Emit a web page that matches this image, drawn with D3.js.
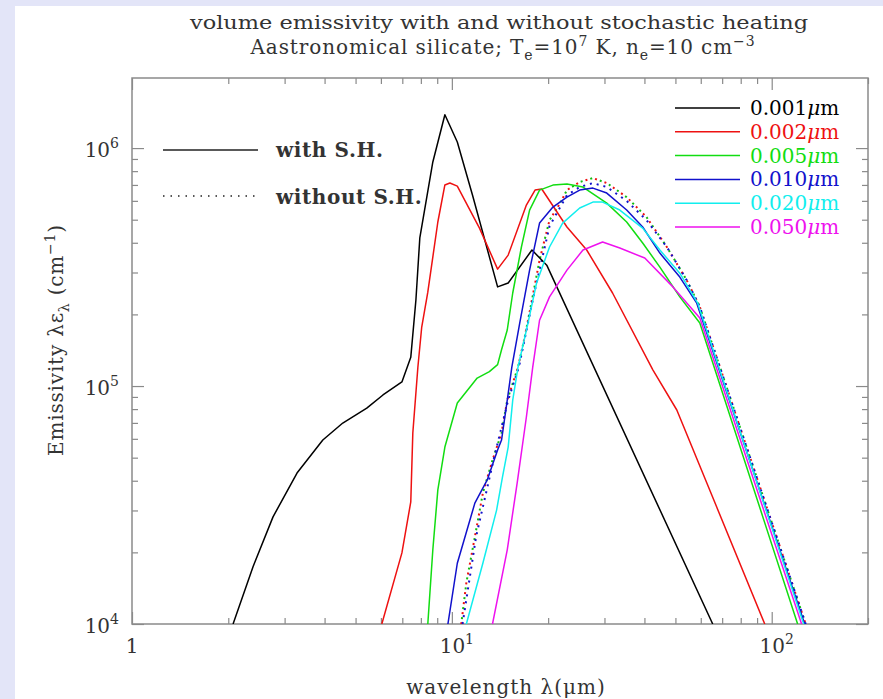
<!DOCTYPE html>
<html>
<head>
<meta charset="utf-8">
<script src="https://cdn.jsdelivr.net/npm/d3@7"></script>
<style>
body { margin: 0; background: #e3e5f8; }
svg { display: block; }
text { font-family: "DejaVu Serif", serif; fill: #333; }
</style>
</head>
<body>
<div id="chart"></div>
<script>
// wavelength (micron) and emissivity (cm^-1)
const lamBlack = [2.07, 2.39, 2.76, 3.28, 3.95, 4.56, 5.42, 6.09, 6.98, 7.44, 7.72, 7.94, 8.72, 9.51, 10.4, 11.6, 13.9, 15.0, 17.8, 19.8, 65.4];
const emBlack  = [1.0e4, 1.74e4, 2.82e4, 4.31e4, 5.93e4, 6.99e4, 8.08e4, 9.17e4, 1.04e5, 1.32e5, 2.30e5, 4.19e5, 8.74e5, 1.38e6, 1.06e6, 6.35e5, 2.61e5, 2.71e5, 3.73e5, 3.22e5, 1.0e4];

const lamRed = [6.04, 6.98, 7.44, 7.55, 7.83, 8.05, 8.41, 9.04, 9.51, 9.86, 10.4, 12.2, 13.9, 15.0, 17.1, 18.2, 19.1, 22.9, 26.4, 31.8, 42.5, 50.5, 67.3, 95.1];
const emRed  = [1.0e4, 1.99e4, 3.26e4, 6.35e4, 1.20e5, 1.77e5, 2.48e5, 4.89e5, 7.0e5, 7.13e5, 6.92e5, 4.61e5, 3.10e5, 3.55e5, 5.76e5, 6.66e5, 6.73e5, 4.66e5, 3.73e5, 2.46e5, 1.17e5, 7.93e4, 3.10e4, 1.0e4];

const lamGreen = [8.41, 8.72, 9.04, 9.51, 10.4, 12.0, 13.1, 13.9, 14.3, 14.9, 15.5, 16.5, 17.5, 18.8, 20.7, 22.9, 25.7, 30.5, 35.2, 39.5, 44.7, 51.6, 59.6, 120.5];
const emGreen  = [1.0e4, 2.05e4, 3.66e4, 5.54e4, 8.48e4, 1.08e5, 1.15e5, 1.23e5, 1.42e5, 1.72e5, 2.46e5, 3.84e5, 5.49e5, 6.66e5, 6.99e5, 7.06e5, 6.86e5, 5.87e5, 4.89e5, 3.99e5, 3.16e5, 2.37e5, 1.84e5, 1.0e4];

const lamBlue = [9.72, 10.4, 11.8, 12.9, 13.9, 14.3, 14.9, 15.4, 16.3, 17.5, 18.8, 20.7, 22.9, 25.1, 27.6, 30.5, 35.2, 39.5, 44.7, 51.6, 58.3, 126.8];
const emBlue  = [1.0e4, 1.80e4, 3.22e4, 4.03e4, 5.38e4, 5.93e4, 8.73e4, 1.20e5, 1.84e5, 3.07e5, 4.84e5, 5.65e5, 6.22e5, 6.66e5, 6.79e5, 6.47e5, 5.49e5, 4.66e5, 3.62e5, 2.87e5, 2.23e5, 1.0e4];

const lamCyan = [11.1, 12.5, 13.8, 14.4, 15.0, 15.5, 16.1, 17.3, 18.4, 20.2, 22.2, 25.1, 27.6, 29.6, 33.5, 39.5, 44.7, 51.6, 58.7, 125.9];
const emCyan  = [1.0e4, 1.80e4, 3.01e4, 4.15e4, 5.54e4, 8.73e4, 1.20e5, 1.84e5, 2.71e5, 3.84e5, 4.84e5, 5.60e5, 5.93e5, 5.93e5, 5.49e5, 4.61e5, 3.73e5, 2.98e5, 2.23e5, 1.0e4];

const lamMagenta = [13.4, 14.9, 16.0, 17.1, 17.9, 18.8, 20.2, 22.9, 25.7, 29.6, 33.5, 40.1, 49.1, 59.6, 124];
const emMagenta  = [1.0e4, 2.05e4, 3.91e4, 7.41e4, 1.20e5, 1.89e5, 2.37e5, 3.07e5, 3.73e5, 4.03e5, 3.80e5, 3.45e5, 2.61e5, 1.93e5, 1.0e4];

// without stochastic heating (dotted)
const lamEqSmall = [10.7, 11.1, 11.8, 12.5, 13.4, 14.3, 14.9, 16.1, 16.9, 17.8, 18.8, 20.2, 21.8, 22.9, 25.1, 27.6, 30.5, 35.2, 40.6, 47.0, 54.2, 59.6, 127.7];
const emEqSmall  = [1.0e4, 1.49e4, 2.32e4, 3.55e4, 4.89e4, 6.35e4, 8.73e4, 1.20e5, 1.61e5, 2.30e5, 3.38e5, 4.98e5, 5.87e5, 6.66e5, 7.20e5, 7.48e5, 7.13e5, 6.22e5, 5.13e5, 3.84e5, 2.79e5, 2.15e5, 1.0e4];
const lamEqBlue = [10.8, 11.9, 13.5, 15.0, 16.2, 17.9, 20.2, 22.9, 25.1, 27.6, 30.5, 35.2, 40.6, 47.0, 54.2, 59.6, 127.7];
const emEqBlue  = [1.0e4, 2.32e4, 4.89e4, 8.73e4, 1.20e5, 2.30e5, 4.70e5, 6.34e5, 6.86e5, 7.13e5, 6.86e5, 6.00e5, 4.98e5, 3.84e5, 2.79e5, 2.15e5, 1.0e4];

const sizeLabels = ["0.001", "0.002", "0.005", "0.010", "0.020", "0.050"];
const sizeColors = ["#000000", "#ee1111", "#11dd11", "#1111cc", "#11eeee", "#ee11ee"];

const xMajor = [1, 10, 100];
const yMajor = [1e4, 1e5, 1e6];

const W = 883, H = 699;
const x = d3.scaleLog().domain([1, 200]).range([132, 868]);
const y = d3.scaleLog().domain([1e4, 1.97e6]).range([624, 78]);

const svg = d3.select("#chart").append("svg")
    .attr("width", W)
    .attr("height", H);

// white page area over the lavender background
svg.append("rect").attr("x", 15).attr("y", 6).attr("width", W - 15).attr("height", H - 6).attr("fill", "#ffffff");

// log minor ticks
function minorTicks(lo, hi) {
    let out = [];
    for (let d = lo; d < hi; d *= 10) {
        for (let k = 2; k <= 9; k++) if (d * k <= hi) out.push(d * k);
    }
    return out;
}
const xMinor = minorTicks(1, 200);
const yMinor = minorTicks(1e4, 1.97e6);

function drawAxis(axisFn, scale, pos, values, size) {
    let g = svg.append("g")
        .attr("transform", pos)
        .call(axisFn(scale).tickValues(values).tickSize(-size).tickFormat(""));
    g.select(".domain").remove();
    g.selectAll("line").attr("stroke", "#8a8a8a").attr("stroke-width", 1.2);
}
drawAxis(d3.axisBottom, x, "translate(0,624)", xMajor, 12);
drawAxis(d3.axisBottom, x, "translate(0,624)", xMinor, 6);
drawAxis(d3.axisTop, x, "translate(0,78)", xMajor, 12);
drawAxis(d3.axisTop, x, "translate(0,78)", xMinor, 6);
drawAxis(d3.axisLeft, y, "translate(132,0)", yMajor, 12);
drawAxis(d3.axisLeft, y, "translate(132,0)", yMinor, 6);
drawAxis(d3.axisRight, y, "translate(868,0)", yMajor, 12);
drawAxis(d3.axisRight, y, "translate(868,0)", yMinor, 6);

// frame
svg.append("rect").attr("x", 132).attr("y", 78).attr("width", 736).attr("height", 546)
    .attr("fill", "none").attr("stroke", "#8a8a8a").attr("stroke-width", 1.5);

// tick labels
xMajor.forEach(function(v, i) {
    let t = svg.append("text").attr("y", 653).attr("font-size", 20).attr("text-anchor", "middle");
    if (i == 0) {
        t.attr("x", x(v)).text("1");
    } else {
        t.attr("x", x(v) + 5);
        t.append("tspan").text("10");
        t.append("tspan").attr("dy", -9).attr("font-size", 14).text(String(i));
    }
});
yMajor.forEach(function(v, i) {
    let t = svg.append("text").attr("x", 119).attr("y", y(v) + 9).attr("font-size", 20).attr("text-anchor", "end");
    t.append("tspan").text("10");
    t.append("tspan").attr("dy", -9).attr("font-size", 14).text(String(i + 4));
});

// curves
const line = d3.line().x(d => x(d[0])).y(d => y(d[1]));
const clip = svg.append("clipPath").attr("id", "plotclip");
clip.append("rect").attr("x", 132).attr("y", 78).attr("width", 736).attr("height", 546);
const plot = svg.append("g").attr("clip-path", "url(#plotclip)");

const solid = [
    [lamBlack, emBlack], [lamRed, emRed], [lamGreen, emGreen],
    [lamBlue, emBlue], [lamCyan, emCyan], [lamMagenta, emMagenta]
];

// dotted (no stochastic heating) drawn first
const eqSmall = d3.zip(lamEqSmall, emEqSmall);
[["#ee1111", 0], ["#11bb11", 5]].forEach(function(c) {
    plot.append("path").attr("d", line(eqSmall))
        .attr("fill", "none").attr("stroke", c[0]).attr("stroke-width", 2)
        .attr("stroke-dasharray", "2,8").attr("stroke-dashoffset", c[1]);
});
plot.append("path").attr("d", line(d3.zip(lamEqBlue, emEqBlue)))
    .attr("fill", "none").attr("stroke", "#1111cc").attr("stroke-width", 2)
    .attr("stroke-dasharray", "2,5");

solid.forEach(function(s, i) {
    plot.append("path").attr("d", line(d3.zip(s[0], s[1])))
        .attr("fill", "none").attr("stroke", sizeColors[i]).attr("stroke-width", 1.5)
        .attr("stroke-linejoin", "round");
});

// left legend: line styles
svg.append("line").attr("x1", 163).attr("x2", 258).attr("y1", 150).attr("y2", 150)
    .attr("stroke", "#222").attr("stroke-width", 1.5);
svg.append("line").attr("x1", 163).attr("x2", 258).attr("y1", 196).attr("y2", 196)
    .attr("stroke", "#222").attr("stroke-width", 1.5).attr("stroke-dasharray", "1.5,6");
svg.append("text").attr("x", 276).attr("y", 157).attr("font-size", 20).attr("font-weight", "bold")
    .attr("letter-spacing", 0.6).attr("fill", "#111").text("with S.H.");
svg.append("text").attr("x", 276).attr("y", 204).attr("font-size", 20).attr("font-weight", "bold")
    .attr("letter-spacing", 0.6).attr("fill", "#111").text("without S.H.");

// right legend: grain sizes
sizeLabels.forEach(function(lab, i) {
    let ly = 108 + i * 23.8;
    svg.append("line").attr("x1", 675).attr("x2", 740).attr("y1", ly).attr("y2", ly)
        .attr("stroke", sizeColors[i]).attr("stroke-width", 1.5);
    let t = svg.append("text").attr("x", 750).attr("y", ly + 7).attr("font-size", 20)
        .style("fill", sizeColors[i]);
    t.append("tspan").text(lab);
    t.append("tspan").attr("font-style", "italic").text("\u03bc");
    t.append("tspan").text("m");
});

// titles
svg.append("text").attr("x", 499).attr("y", 29).attr("font-size", 19).attr("text-anchor", "middle")
    .attr("textLength", 618).attr("lengthAdjust", "spacingAndGlyphs")
    .text("volume emissivity with and without stochastic heating");
let t2 = svg.append("text").attr("x", 503).attr("y", 54).attr("font-size", 20)
    .attr("letter-spacing", 0.9).attr("text-anchor", "middle");
t2.append("tspan").text("Aastronomical silicate; T");
t2.append("tspan").attr("dy", 6).attr("font-size", 14).text("e");
t2.append("tspan").attr("dy", -6).text("=10");
t2.append("tspan").attr("dy", -8).attr("font-size", 14).text("7");
t2.append("tspan").attr("dy", 8).text(" K, n");
t2.append("tspan").attr("dy", 6).attr("font-size", 14).text("e");
t2.append("tspan").attr("dy", -6).text("=10 cm");
t2.append("tspan").attr("dy", -8).attr("font-size", 14).text("\u22123");

// axis titles
svg.append("text").attr("x", 506).attr("y", 694).attr("font-size", 20).attr("letter-spacing", 1)
    .attr("text-anchor", "middle")
    .text("wavelength \u03bb(\u03bcm)");
let yl = svg.append("text").attr("transform", "translate(63,340) rotate(-90)")
    .attr("font-size", 20).attr("letter-spacing", 0.8).attr("text-anchor", "middle");
yl.append("tspan").text("Emissivity \u03bb\u03b5");
yl.append("tspan").attr("dy", 6).attr("font-size", 14).text("\u03bb");
yl.append("tspan").attr("dy", -6).text(" (cm");
yl.append("tspan").attr("dy", -8).attr("font-size", 14).text("\u22121");
yl.append("tspan").attr("dy", 8).text(")");
</script>
</body>
</html>
